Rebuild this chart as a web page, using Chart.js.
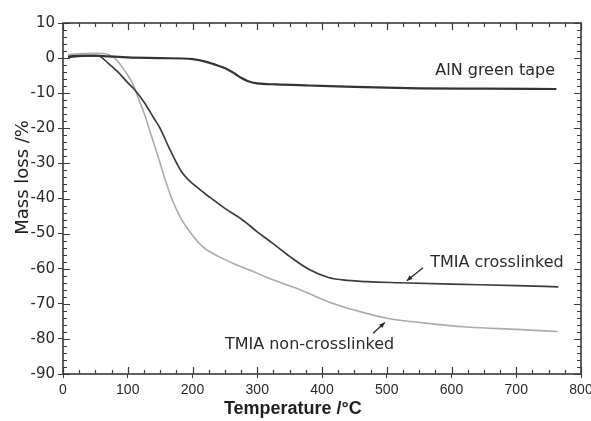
<!DOCTYPE html>
<html>
<head>
<meta charset="utf-8">
<script src="https://cdn.jsdelivr.net/npm/chart.js@4/dist/chart.umd.min.js"></script>
<style>
  html, body { margin: 0; padding: 0; background: #fff; }
  #wrap { width: 591px; height: 421px; }
</style>
</head>
<body>
<div id="wrap"><canvas id="c" width="591" height="421"></canvas></div>
<script>
// ---- Data ----
const alnT   = [8, 30, 50, 70, 100, 150, 200, 220, 240, 255, 265, 275, 285, 300, 330, 380, 450, 550, 650, 762];
const alnV   = [0.3, 0.6, 0.7, 0.5, 0.2, 0, -0.3, -1.0, -2.2, -3.3, -4.4, -5.6, -6.5, -7.2, -7.5, -7.8, -8.2, -8.6, -8.7, -8.8];

const crossT = [8, 30, 55, 70, 85, 100, 111, 125, 140, 150, 165, 185, 205, 227, 250, 278, 300, 324, 350, 381, 410, 432, 470, 520, 600, 700, 765];
const crossV = [0.5, 0.8, 0.6, -1.5, -4, -7, -9.1, -12.5, -17, -20, -26, -32.9, -36.5, -39.7, -42.8, -46.2, -49.5, -52.8, -56.5, -60.3, -62.5, -63.2, -63.7, -64, -64.4, -64.8, -65.2];

const nonT   = [8, 30, 55, 70, 80, 95, 108, 116, 125, 134, 145, 155, 168, 181, 200, 216, 240, 263, 290, 315, 366, 417, 460, 500, 560, 624, 700, 764];
const nonV   = [1, 1.3, 1.4, 1.0, 0, -3.5, -7.4, -11.3, -15.5, -20.7, -27, -33, -40, -45.3, -50.5, -53.8, -56.5, -58.5, -60.5, -62.5, -66, -69.9, -72.3, -74.1, -75.5, -76.6, -77.3, -77.9];

const seriesNames = ["AlN green tape", "TMIA crosslinked", "TMIA non-crosslinked"];
const xTitle = "Temperature /°C";
const yTitle = "Mass loss /%";

// annotation anchors in data units
const labelAnchors = [
  { text: "AlN green tape",        T: 760, v: -3.7,  align: "right" },
  { text: "TMIA crosslinked",      T: 567, v: -58.2, align: "left"  },
  { text: "TMIA non-crosslinked",  T: 250, v: -81.8, align: "left"  }
];
const arrows = [
  { fromT: 556, fromV: -59.7, toT: 531, toV: -63.4 },
  { fromT: 479, fromV: -78.4, toT: 497, toV: -75.3 }
];

function pts(xs, ys) { return xs.map((x, i) => ({ x: x, y: ys[i] })); }

const frameAndTicks = {
  id: 'frameAndTicks',
  afterDraw(chart) {
    const ctx = chart.ctx, a = chart.chartArea;
    const xs = chart.scales.x, ys = chart.scales.y;
    ctx.save();
    ctx.strokeStyle = '#3a3a3a';
    ctx.lineWidth = 1.6;
    ctx.strokeRect(a.left, a.top, a.right - a.left, a.bottom - a.top);
    ctx.lineWidth = 1.2;
    ctx.beginPath();
    for (let t = 0; t <= 800; t += 25) {
      const px = Math.round(xs.getPixelForValue(t)) + 0.5;
      const len = (t % 100 === 0) ? 7 : 4;
      ctx.moveTo(px, a.bottom); ctx.lineTo(px, a.bottom - len);
      ctx.moveTo(px, a.top); ctx.lineTo(px, a.top + len);
    }
    for (let v = -90; v <= 10; v += 2) {
      const py = Math.round(ys.getPixelForValue(v)) + 0.5;
      const len = (v % 10 === 0) ? 7 : 4;
      ctx.moveTo(a.left, py); ctx.lineTo(a.left + len, py);
      ctx.moveTo(a.right, py); ctx.lineTo(a.right - len, py);
    }
    ctx.stroke();

    // annotations
    ctx.fillStyle = '#2a2a2a';
    ctx.font = '16px "DejaVu Sans", sans-serif';
    ctx.textBaseline = 'middle';
    labelAnchors.forEach(l => {
      ctx.textAlign = l.align;
      ctx.fillText(l.text, xs.getPixelForValue(l.T), ys.getPixelForValue(l.v));
    });
    ctx.strokeStyle = '#2a2a2a';
    ctx.lineWidth = 1.3;
    arrows.forEach(ar => {
      const x1 = xs.getPixelForValue(ar.fromT), y1 = ys.getPixelForValue(ar.fromV);
      const x2 = xs.getPixelForValue(ar.toT),   y2 = ys.getPixelForValue(ar.toV);
      ctx.beginPath(); ctx.moveTo(x1, y1); ctx.lineTo(x2, y2); ctx.stroke();
      const ang = Math.atan2(y2 - y1, x2 - x1), h = 6;
      ctx.beginPath();
      ctx.moveTo(x2, y2);
      ctx.lineTo(x2 - h * Math.cos(ang - 0.4), y2 - h * Math.sin(ang - 0.4));
      ctx.lineTo(x2 - h * Math.cos(ang + 0.4), y2 - h * Math.sin(ang + 0.4));
      ctx.closePath(); ctx.fill();
    });

    // axis titles
    ctx.fillStyle = '#1e1e1e';
    ctx.textAlign = 'center';
    ctx.font = 'bold 18px "Liberation Sans", Arial, sans-serif';
    ctx.fillText(xTitle, xs.getPixelForValue(355), 409);
    ctx.save();
    ctx.translate(23, ys.getPixelForValue(-34));
    ctx.rotate(-Math.PI / 2);
    ctx.font = '18px "DejaVu Sans", sans-serif';
    ctx.fillText(yTitle, 0, 0);
    ctx.restore();
    ctx.restore();
  }
};

new Chart(document.getElementById('c'), {
  type: 'line',
  data: {
    datasets: [
      { label: seriesNames[0], data: pts(alnT, alnV),   borderColor: '#333333', borderWidth: 2.2 },
      { label: seriesNames[1], data: pts(crossT, crossV), borderColor: '#3c3c3c', borderWidth: 1.7 },
      { label: seriesNames[2], data: pts(nonT, nonV),   borderColor: '#ababab', borderWidth: 1.6 }
    ]
  },
  options: {
    responsive: false,
    animation: false,
    devicePixelRatio: 1,
    elements: { point: { radius: 0 }, line: { tension: 0.4, cubicInterpolationMode: 'monotone', fill: false } },
    layout: { padding: { left: 0, right: 10, top: 23, bottom: 0 } },
    plugins: { legend: { display: false }, tooltip: { enabled: false } },
    scales: {
      x: {
        type: 'linear', min: 0, max: 800,
        ticks: { stepSize: 100, color: '#2a2a2a', padding: 4,
                 font: { family: '"Liberation Sans", Arial, sans-serif', size: 14 } },
        grid: { drawOnChartArea: false, drawTicks: true, tickLength: 4, color: '#3a3a3a' },
        border: { display: false },
        afterFit(s) { s.height = 47; s.paddingRight = 0; s.paddingLeft = 0; }
      },
      y: {
        type: 'linear', min: -90, max: 10,
        ticks: { stepSize: 10, color: '#2a2a2a', padding: 3,
                 font: { family: '"DejaVu Sans", sans-serif', size: 15 } },
        grid: { drawOnChartArea: false, drawTicks: true, tickLength: 5, color: '#3a3a3a' },
        border: { display: false },
        afterFit(s) { s.width = 63; s.paddingTop = 0; s.paddingBottom = 0; }
      }
    }
  },
  plugins: [frameAndTicks]
});
</script>
</body>
</html>
